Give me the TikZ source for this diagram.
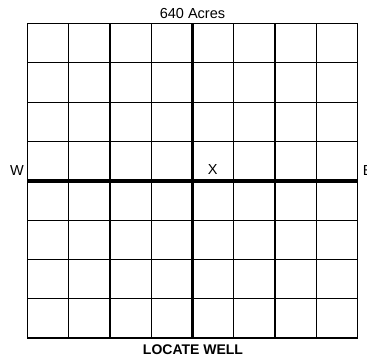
\documentclass[tikz,border=0pt]{standalone}
\usepackage{fontspec}
\setmainfont{Liberation Sans}
\begin{document}
\begin{tikzpicture}[x=1pt, y=-1pt, line join=miter, line cap=rect,
  thin line/.style={line width=1.1pt},
  thick line/.style={line width=3.6pt},
  frame line/.style={line width=1.8pt},
  lbl/.style={inner sep=0pt, font=\fontsize{14.5}{16}\selectfont}]
\useasboundingbox (0,0) rectangle (367,356);
\path
(27.5,23.5) coordinate (NW)
(357.5,23.5) coordinate (NE)
(27.5,338) coordinate (SW)
(357.5,338) coordinate (SE)
(192.5,23.5) coordinate (N)
(192.5,338) coordinate (S)
(27.5,180.75) coordinate (W)
(357.5,180.75) coordinate (E)
;
\foreach \i in {1,2,3,5,6,7} {
  \draw[thin line] (27.5+\i*41.25,23.5) -- (27.5+\i*41.25,338);
  \draw[thin line] (27.5,23.5+\i*39.3125) -- (357.5,23.5+\i*39.3125);
}
\draw[thick line,line cap=butt] (N) -- (S) (W) -- (E);
\draw[frame line] (NW) rectangle (SE);
\node[lbl, anchor=base] (acres) at (192.5,18) {640 Acres};
\node[lbl, anchor=base west] (west) at (10,175) {W};
\node[lbl, anchor=base west] (east) at (362.7,175) {E};
\node[lbl, anchor=base west] (x) at (207.7,174) {X};
\node[lbl, anchor=base, font=\fontsize{14}{16}\selectfont\bfseries] (well) at (193,354) {LOCATE WELL};
\end{tikzpicture}
\end{document}
